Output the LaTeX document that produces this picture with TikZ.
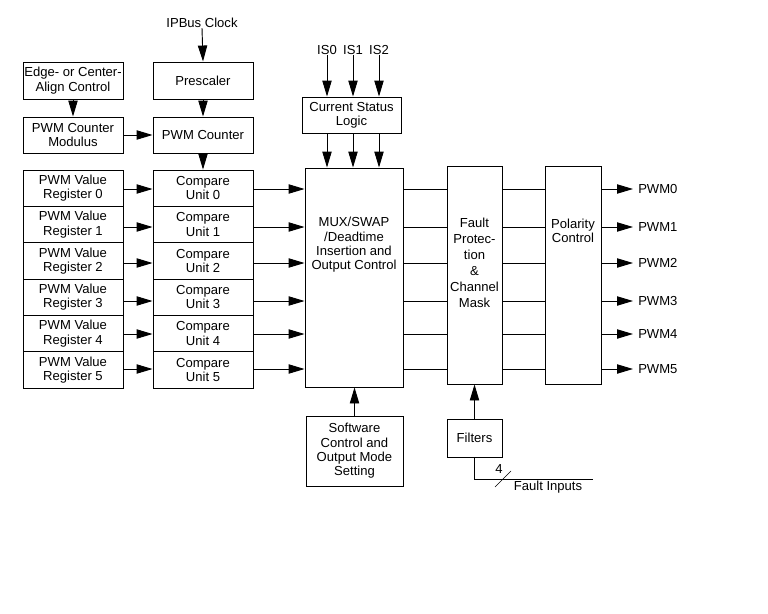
\documentclass[tikz,border=0pt]{standalone}
\usepackage{fontspec}
\setmainfont{Liberation Sans}
\usetikzlibrary{arrows.meta}
\begin{document}
\begin{tikzpicture}[x=0.75pt,y=-0.75pt,
  every node/.style={font=\fontsize{9.8}{10.7}\selectfont},
  box/.style={draw, line width=0.7pt, inner sep=0pt, align=center},
  lbl/.style={inner sep=0pt, align=center},
  ar/.style={line width=0.7pt, -{Triangle[length=12pt,width=7pt]}},
  ln/.style={line width=0.7pt}]
\useasboundingbox (0,0) rectangle (768,614);
% top-left column
\node[box, minimum width=75pt, minimum height=27.75pt] (edge) at (73,80.5) {Edge- or Center-\\Align Control};
\node[box, minimum width=75pt, minimum height=27pt] (mod) at (73,135) {PWM Counter\\Modulus};
\node[box, minimum width=75pt, minimum height=27.75pt] (pre) at (203,80.5) {Prescaler};
\node[box, minimum width=75pt, minimum height=27pt] (cnt) at (203,135) {PWM Counter};
\node[lbl] (clk) at (202,23) {IPBus Clock};
% registers and compare units
\foreach \i/\y in {0/188.2,1/224.5,2/260.8,3/297.2,4/333.5,5/369.8}{
  \node[box, minimum width=75pt, minimum height=27.25pt] (reg\i) at (73,\y) {PWM Value\\Register \i};
  \node[box, minimum width=75pt, minimum height=27.25pt] (cmp\i) at (203,\y) {Compare\\Unit \i};
}
% main blocks
\node[box, minimum width=73.5pt, minimum height=164.25pt] (mux) at (354,277.5) {};
\node[lbl] (muxt) at (354,245) {MUX/SWAP\\/Deadtime\\Insertion and\\Output Control};
\node[box, minimum width=41.25pt, minimum height=163.5pt] (flt) at (474.5,275) {};
\node[lbl, font=\fontsize{9.8}{12}\selectfont] (fltt) at (474.5,263) {Fault\\Protec-\\tion\\\&\\Channel\\Mask};
\node[box, minimum width=42pt, minimum height=163.5pt] (pol) at (573,275) {};
\node[lbl] (polt) at (573,231) {Polarity\\Control};
\node[box, minimum width=74.25pt, minimum height=27pt] (csl) at (351.5,115) {Current Status\\Logic};
\node[box, minimum width=72.75pt, minimum height=52.5pt] (sw) at (354.5,451) {Software\\Control and\\Output Mode\\Setting};
\node[box, minimum width=41.25pt, minimum height=28.5pt] (fil) at (474.5,438) {Filters};
% IS inputs
\node[lbl] (is0) at (327,50) {IS0};
\node[lbl] (is1) at (353,50) {IS1};
\node[lbl] (is2) at (379,50) {IS2};
\foreach \s in {is0,is1,is2}{
  \draw[ar] (\s.south) -- (\s.south |- csl.north);
  \draw[ar] (\s.south |- csl.south) -- (\s.south |- mux.north);
}
% top arrows
\draw[ar] (clk.south) -- (pre.north);
\draw[ar] (pre.south) -- (cnt.north);
\draw[ar] (cnt.south) -- (cmp0.north);
\draw[ar] (edge.south) -- (mod.north);
\draw[ar] (mod.east) -- (cnt.west);
% channels
\foreach \i/\y in {0/189,1/227,2/263,3/301,4/334,5/369}{
  \coordinate (ch\i) at (0,\y);
  \draw[ar] (reg\i.east |- ch\i) -- (cmp\i.west |- ch\i);
  \draw[ar] (cmp\i.east |- ch\i) -- (mux.west |- ch\i);
  \draw[ln] (mux.east |- ch\i) -- (flt.west |- ch\i);
  \draw[ln] (flt.east |- ch\i) -- (pol.west |- ch\i);
  \coordinate (pe\i) at (633,\y);
  \draw[ar] (pol.east |- ch\i) -- (pe\i);
  \node[lbl, anchor=west] (pwm\i) at (638,\y) {PWM\i};
}
% bottom
\draw[ar] (sw.north) -- (sw.north |- mux.south);
\draw[ar] (fil.north) -- (fil.north |- flt.south);
\coordinate (fie) at (593,479);
\draw[ln] (fil.south) |- (fie);
\coordinate (sl1) at (495,487);
\coordinate (sl2) at (511,471);
\draw[line width=0.5pt] (sl1) -- (sl2);
\node[lbl] (four) at (499,469) {4};
\node[lbl] (fin) at (548,487) {Fault Inputs};
\end{tikzpicture}
\end{document}
